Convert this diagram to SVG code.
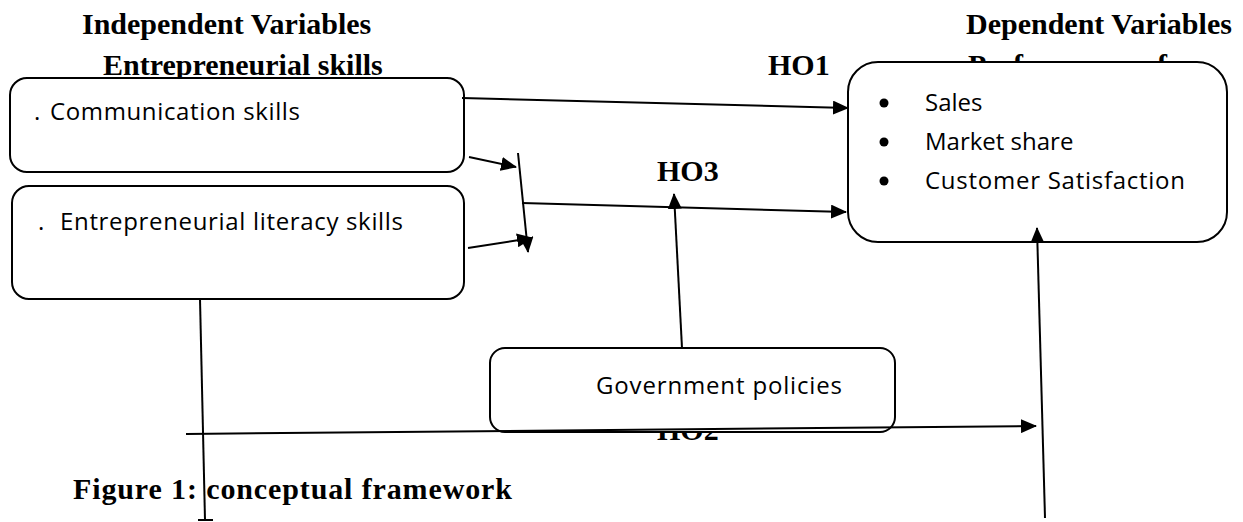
<svg xmlns="http://www.w3.org/2000/svg" width="1243" height="522" viewBox="0 0 1243 522">
<style>
.hd{font-family:"Liberation Serif","Times New Roman",serif;font-weight:bold;font-size:30px;fill:#000}
.tx{font-family:"Open Sans","Liberation Sans",sans-serif;font-size:24px;fill:#000}
.box{fill:#fff;stroke:#000;stroke-width:2}
.ln{fill:none;stroke:#000;stroke-width:2}
</style>
<defs>
<marker id="ah" markerWidth="16" markerHeight="14" refX="15" refY="7" orient="auto" markerUnits="userSpaceOnUse">
<path d="M0,0 L16,7 L0,14 Z" fill="#000"/>
</marker>
</defs>
<rect width="1243" height="522" fill="#fff"/>
<g id="headings">
<text class="hd" x="82" y="34">Independent Variables</text>
<text class="hd" x="103" y="75">Entrepreneurial skills</text>
<text class="hd" x="768" y="75">HO1</text>
<text class="hd" x="966" y="34">Dependent Variables</text>
<text class="hd" x="968" y="75">Performance of</text>
<text class="hd" x="657" y="181">HO3</text>
<text class="hd" x="657" y="440">HO2</text>
<text class="hd" x="73" y="499" textLength="439">Figure 1: conceptual framework</text>
</g>
<g id="node-communication">
<rect class="box" x="10" y="78" width="454" height="94" rx="17"/>
<text class="tx" x="34" y="120">.</text>
<text class="tx" x="50" y="120" textLength="250">Communication skills</text>
</g>
<g id="node-literacy">
<rect class="box" x="12" y="186" width="452" height="113" rx="17"/>
<text class="tx" x="38" y="230">.</text>
<text class="tx" x="60" y="230" textLength="343">Entrepreneurial literacy skills</text>
</g>
<g id="node-performance">
<rect class="box" x="848" y="62" width="379" height="180" rx="30"/>
<circle cx="884" cy="103" r="4.5"/>
<circle cx="884" cy="142" r="4.5"/>
<circle cx="884" cy="181" r="4.5"/>
<text class="tx" x="925" y="111">Sales</text>
<text class="tx" x="925" y="150">Market share</text>
<text class="tx" x="925" y="189" textLength="260">Customer Satisfaction</text>
</g>
<g id="node-government">
<rect class="box" x="490" y="348" width="405" height="84" rx="15"/>
<text class="tx" x="596" y="394" textLength="246">Government policies</text>
</g>
<g id="connectors">
<line class="ln" x1="462" y1="98" x2="848" y2="108" marker-end="url(#ah)"/>
<line class="ln" x1="469" y1="157" x2="516" y2="167" marker-end="url(#ah)"/>
<line class="ln" x1="518" y1="153" x2="528" y2="252" marker-end="url(#ah)"/>
<line class="ln" x1="468" y1="248" x2="532" y2="238" marker-end="url(#ah)"/>
<line class="ln" x1="522" y1="203" x2="846" y2="212" marker-end="url(#ah)"/>
<line class="ln" x1="682" y1="348" x2="674" y2="194" marker-end="url(#ah)"/>
<line class="ln" x1="186" y1="434" x2="1036" y2="426" marker-end="url(#ah)"/>
<line class="ln" x1="200" y1="299" x2="205" y2="520"/>
<line class="ln" x1="198" y1="520" x2="213" y2="520"/>
<line class="ln" x1="1045" y1="518" x2="1037" y2="228" marker-end="url(#ah)"/>
</g>
</svg>
